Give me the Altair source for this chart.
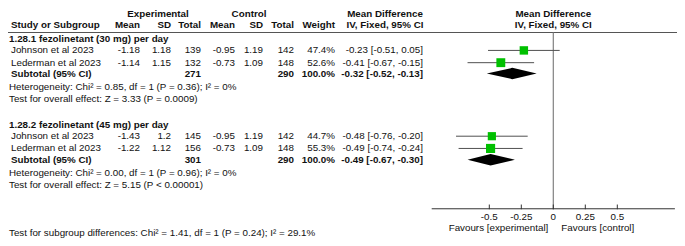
import altair as alt
import pandas as pd

# ---------------- data ----------------
group_titles = ["1.28.1 fezolinetant (30 mg) per day", "1.28.2 fezolinetant (45 mg) per day"]
study_names = ["Johnson et al 2023", "Lederman et al 2023", "Johnson et al 2023", "Lederman et al 2023"]
exp_mean = [-1.18, -1.14, -1.43, -1.22]
exp_sd = [1.18, 1.15, 1.2, 1.12]
exp_total = [139, 132, 145, 156]
ctl_mean = [-0.95, -0.73, -0.95, -0.73]
ctl_sd = [1.19, 1.09, 1.19, 1.09]
ctl_total = [142, 148, 142, 148]
weight = [47.4, 52.6, 44.7, 55.3]
md = [-0.23, -0.41, -0.48, -0.49]
md_low = [-0.51, -0.67, -0.76, -0.74]
md_high = [0.05, -0.15, -0.20, -0.24]

sub_label = "Subtotal (95% CI)"
sub_exp_total = [271, 301]
sub_ctl_total = [290, 290]
sub_weight = [100.0, 100.0]
sub_md = [-0.32, -0.49]
sub_low = [-0.52, -0.67]
sub_high = [-0.13, -0.30]

heterogeneity = ["Heterogeneity: Chi² = 0.85, df = 1 (P = 0.36); I² = 0%",
                 "Heterogeneity: Chi² = 0.00, df = 1 (P = 0.96); I² = 0%"]
overall_effect = ["Test for overall effect: Z = 3.33 (P = 0.0009)",
                  "Test for overall effect: Z = 5.15 (P < 0.00001)"]
subgroup_test = "Test for subgroup differences: Chi² = 1.41, df = 1 (P = 0.24); I² = 29.1%"

header_row1 = ["Experimental", "Control", "Mean Difference"]
header_row2 = ["Study or Subgroup", "Mean", "SD", "Total", "Mean", "SD", "Total", "Weight", "IV, Fixed, 95% CI"]
plot_header = ["Mean Difference", "IV, Fixed, 95% CI"]
axis_ticks = [-0.5, -0.25, 0, 0.25, 0.5]
tick_labels = ["-0.5", "-0.25", "0", "0.25", "0.5"]
favours = ["Favours [experimental]", "Favours [control]"]

# ---------------- layout ----------------
W, H = 669, 230
MARGIN = 8
FONT = "Liberation Sans"
FS = 9.8
TXT = "#111111"


def px(ref_x):
    return ref_x - MARGIN


# row positions (reference pixel units)
R_H1, R_H2, R_LINE = 5, 17, 25
R_TITLE = [32, 123]
R_STUDY = [44, 57, 135, 148]
R_SUB = [68.5, 160]
R_HET = [83, 174]
R_OVR = [96, 187]
R_ZERO_TOP = 25
R_AXIS = 212
R_TICK = (207.5, 212.5)
R_TICKLAB = 221
R_FAV = 232
R_SUBG = 238
DIAMOND_HALF = 6
AXIS_EXTENT = (-0.95, 0.95)

# column positions (reference pixel x)
C_LEFT1, C_LEFT2 = 9, 11
C_EMEAN, C_ESD, C_ETOT = 140, 171, 201
C_CMEAN, C_CSD, C_CTOT = 235, 263, 294
C_W, C_CI = 335, 423
C_EXP, C_CTL, C_MDH = 158, 249, 385

yscale = alt.Scale(domain=[-1, 243], range=[0, H], zero=False, nice=False)
xscale = alt.Scale(domain=[-1, 1], range=[px(425.3), px(681.3)], zero=False, nice=False)


def Y(f="ry"):
    return alt.Y(f"{f}:Q", scale=yscale, axis=None)


def X(f="x"):
    return alt.X(f"{f}:Q", scale=xscale, axis=None)


def txt(df, x_ref, align="left", bold=False, field="t"):
    return alt.Chart(df).mark_text(
        align=align, baseline="middle", font=FONT, fontSize=FS,
        fontWeight="bold" if bold else "normal", color=TXT
    ).encode(x=alt.value(px(x_ref)), y=Y(), text=alt.Text(f"{field}:N"))


def ci_text(m, lo, hi):
    return f"{m:.2f} [{lo:.2f}, {hi:.2f}]"


studies = pd.DataFrame({
    "name": study_names,
    "em": [f"{v:g}" for v in exp_mean],
    "esd": [f"{v:g}" for v in exp_sd],
    "en": [str(v) for v in exp_total],
    "cm": [f"{v:g}" for v in ctl_mean],
    "csd": [f"{v:g}" for v in ctl_sd],
    "cn": [str(v) for v in ctl_total],
    "w": [f"{v:.1f}%" for v in weight],
    "wv": weight,
    "ci": [ci_text(m, l, h) for m, l, h in zip(md, md_low, md_high)],
    "md": md, "lo": md_low, "hi": md_high,
    "ry": R_STUDY,
})

subs = pd.DataFrame({
    "label": [sub_label] * 2,
    "en": [str(v) for v in sub_exp_total],
    "cn": [str(v) for v in sub_ctl_total],
    "w": [f"{v:.1f}%" for v in sub_weight],
    "ci": [ci_text(m, l, h) for m, l, h in zip(sub_md, sub_low, sub_high)],
    "ry": R_SUB,
})

titles = pd.DataFrame({"t": group_titles, "ry": R_TITLE})
het = pd.DataFrame({"t": heterogeneity + overall_effect + [subgroup_test],
                    "ry": R_HET + R_OVR + [R_SUBG]})

layers = []

# header line
layers.append(alt.Chart(pd.DataFrame({"ry": [R_LINE]})).mark_rule(color="#555555", strokeWidth=1).encode(
    x=alt.value(0), x2=alt.value(W), y=Y()))

# headers
h1_pos = [(C_EXP, "center"), (C_CTL, "center"), (C_MDH, "center")]
for t, (xr, al) in zip(header_row1, h1_pos):
    layers.append(txt(pd.DataFrame({"t": [t], "ry": [R_H1]}), xr, al, bold=True))
h2_pos = [(C_LEFT2, "left"), (C_EMEAN, "right"), (C_ESD, "right"), (C_ETOT, "right"),
          (C_CMEAN, "right"), (C_CSD, "right"), (C_CTOT, "right"), (C_W, "right"), (C_MDH, "center")]
for t, (xr, al) in zip(header_row2, h2_pos):
    layers.append(txt(pd.DataFrame({"t": [t], "ry": [R_H2]}), xr, al, bold=True))
layers.append(alt.Chart(pd.DataFrame({"t": plot_header, "x": [0, 0], "ry": [R_H1, R_H2]})).mark_text(
    align="center", baseline="middle", font=FONT, fontSize=FS, fontWeight="bold", color=TXT
).encode(x=X(), y=Y(), text="t:N"))

# group titles, study rows
layers.append(txt(titles, C_LEFT1, "left", bold=True))
layers.append(txt(studies, C_LEFT2, "left", field="name"))
for f, xr in [("em", C_EMEAN), ("esd", C_ESD), ("en", C_ETOT), ("cm", C_CMEAN),
              ("csd", C_CSD), ("cn", C_CTOT), ("w", C_W), ("ci", C_CI)]:
    layers.append(txt(studies, xr, "right", field=f))

# subtotal rows
layers.append(txt(subs, C_LEFT2, "left", bold=True, field="label"))
for f, xr in [("en", C_ETOT), ("cn", C_CTOT), ("w", C_W), ("ci", C_CI)]:
    layers.append(txt(subs, xr, "right", bold=True, field=f))

# heterogeneity / tests
layers.append(txt(het, C_LEFT1, "left"))

# zero line
layers.append(alt.Chart(pd.DataFrame({"x": [0], "ry": [R_ZERO_TOP], "ry2": [R_TICK[1]]})).mark_rule(
    color="#808080", strokeWidth=1.2).encode(x=X(), y=Y(), y2="ry2:Q"))

# CI lines
layers.append(alt.Chart(studies).mark_rule(color="#505050", strokeWidth=1).encode(
    x=X("lo"), x2="hi:Q", y=Y()))

# squares
layers.append(alt.Chart(studies).mark_square(color="#00c000", opacity=1, filled=True).encode(
    x=X("md"), y=Y(),
    size=alt.Size("wv:Q", scale=alt.Scale(domain=[0, 100], range=[0, 150], zero=True), legend=None)))

# diamonds
drows = []
for i in range(len(sub_md)):
    c = R_SUB[i]
    drows += [{"g": i, "x": sub_low[i], "ry": c, "ry2": c},
              {"g": i, "x": sub_md[i], "ry": c - DIAMOND_HALF, "ry2": c + DIAMOND_HALF},
              {"g": i, "x": sub_high[i], "ry": c, "ry2": c}]
layers.append(alt.Chart(pd.DataFrame(drows)).mark_area(color="#000000", interpolate="linear", opacity=1).encode(
    x=X(), y=Y(), y2="ry2:Q", detail="g:N"))

# axis
layers.append(alt.Chart(pd.DataFrame({"x": [AXIS_EXTENT[0]], "x2": [AXIS_EXTENT[1]], "ry": [R_AXIS]})).mark_rule(
    color="#333333", strokeWidth=1).encode(x=X(), x2="x2:Q", y=Y()))
ticks = pd.DataFrame({"x": axis_ticks, "t": tick_labels, "ry": [R_TICK[0]] * 5, "ry2": [R_TICK[1]] * 5})
layers.append(alt.Chart(ticks).mark_rule(color="#333333", strokeWidth=1).encode(x=X(), y=Y(), y2="ry2:Q"))
layers.append(alt.Chart(ticks.assign(ry=R_TICKLAB)).mark_text(
    align="center", baseline="middle", font=FONT, fontSize=FS, color=TXT).encode(x=X(), y=Y(), text="t:N"))
fav = pd.DataFrame({"x": [0], "ry": [R_FAV], "a": [favours[0]], "b": [favours[1]]})
layers.append(alt.Chart(fav).mark_text(align="right", baseline="middle", dx=-5, font=FONT, fontSize=FS,
                                       color=TXT).encode(x=X(), y=Y(), text="a:N"))
layers.append(alt.Chart(fav).mark_text(align="left", baseline="middle", dx=8, font=FONT, fontSize=FS,
                                       color=TXT).encode(x=X(), y=Y(), text="b:N"))

chart = alt.layer(*layers).properties(
    width=W, height=H, padding=0, autosize=alt.AutoSizeParams(type="none"), background="white"
).configure_view(stroke=None)

chart.save("out.html", embed_options={"renderer": "svg", "actions": False})
